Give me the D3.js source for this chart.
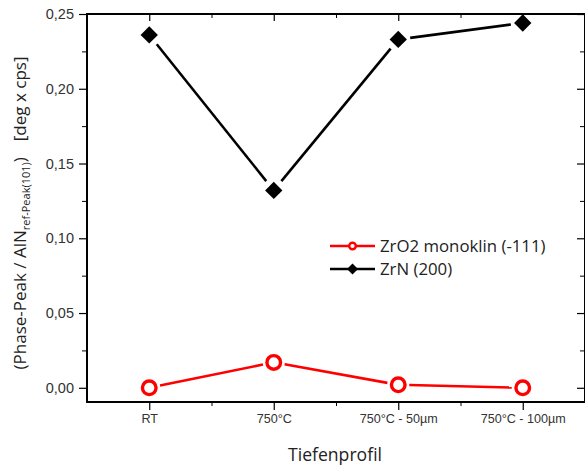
<!DOCTYPE html>
<html>
<head>
<meta charset="utf-8">
<script src="https://cdn.jsdelivr.net/npm/d3@7"></script>
<style>
  body { margin: 0; background: #fff; }
  svg { font-family: "Open Sans", "Noto Sans", sans-serif; }
</style>
</head>
<body>
<svg id="chart" width="585" height="468"></svg>
<script>
// categories and series values
const categories = ['RT', '750°C', '750°C - 50µm', '750°C - 100µm'];
const zro2 = [0.000, 0.017, 0.002, 0.000];
const zrn = [0.236, 0.132, 0.233, 0.244];
const yTicks = [0, 0.05, 0.10, 0.15, 0.20, 0.25];
const yMinor = [0.025, 0.075, 0.125, 0.175, 0.225];

const margin = { left: 87, right: 585, top: 14, bottom: 402 };
const svg = d3.select('#chart');

// x is a linear scale over category index, half a step of padding each side
const x = d3.scaleLinear().domain([0.5, categories.length + 0.5]).range([margin.left, margin.right]);
const y = d3.scaleLinear().domain([-0.0095, 0.25]).range([margin.bottom, margin.top]);

const fmt = d => d3.format('.2f')(d).replace('.', ',');

// frame
svg.append('rect')
  .attr('x', margin.left).attr('y', margin.top)
  .attr('width', margin.right - margin.left).attr('height', margin.bottom - margin.top)
  .attr('fill', 'none').attr('stroke', '#000').attr('stroke-width', 2);

const idx = d3.range(1, categories.length + 1);
const halfIdx = d3.range(1.5, categories.length, 1);

// bottom axis
const gx = svg.append('g').attr('transform', `translate(0,${margin.bottom})`)
  .call(d3.axisBottom(x).tickValues(idx).tickFormat(i => categories[i - 1]).tickSize(8).tickPadding(4));
gx.select('.domain').remove();
gx.selectAll('line').attr('stroke', '#000').attr('stroke-width', 1.2);
gx.selectAll('text').attr('font-size', 12.6).attr('fill', '#333');
svg.append('g').attr('transform', `translate(0,${margin.bottom})`)
  .call(d3.axisBottom(x).tickValues(halfIdx).tickFormat('').tickSize(4))
  .call(g => g.select('.domain').remove())
  .selectAll('line').attr('stroke', '#000');

// top axis, ticks pointing inside
const gt = svg.append('g').attr('transform', `translate(0,${margin.top})`)
  .call(d3.axisTop(x).tickValues(idx).tickFormat('').tickSize(-7));
gt.select('.domain').remove();
gt.selectAll('line').attr('stroke', '#000').attr('stroke-width', 1.2);
svg.append('g').attr('transform', `translate(0,${margin.top})`)
  .call(d3.axisTop(x).tickValues(halfIdx).tickFormat('').tickSize(-4))
  .call(g => g.select('.domain').remove())
  .selectAll('line').attr('stroke', '#000');

// left axis
const gy = svg.append('g').attr('transform', `translate(${margin.left},0)`)
  .call(d3.axisLeft(y).tickValues(yTicks).tickFormat(fmt).tickSize(8).tickPadding(5));
gy.select('.domain').remove();
gy.selectAll('line').attr('stroke', '#000').attr('stroke-width', 1.2);
gy.selectAll('text').attr('font-size', 14.5).attr('fill', '#333');
svg.append('g').attr('transform', `translate(${margin.left},0)`)
  .call(d3.axisLeft(y).tickValues(yMinor).tickFormat('').tickSize(5))
  .call(g => g.select('.domain').remove())
  .selectAll('line').attr('stroke', '#000');

// right axis, ticks pointing inside
svg.append('g').attr('transform', `translate(${margin.right},0)`)
  .call(d3.axisRight(y).tickValues(yTicks).tickFormat('').tickSize(-8))
  .call(g => g.select('.domain').remove())
  .selectAll('line').attr('stroke', '#000').attr('stroke-width', 1.2);
svg.append('g').attr('transform', `translate(${margin.right},0)`)
  .call(d3.axisRight(y).tickValues(yMinor).tickFormat('').tickSize(-5))
  .call(g => g.select('.domain').remove())
  .selectAll('line').attr('stroke', '#000');

// line segments with a small gap at each marker
function drawSeries(vals, color, gap) {
  const pts = vals.map((v, i) => [x(i + 1), y(v)]);
  for (let i = 0; i < pts.length - 1; i++) {
    const [x1, y1] = pts[i], [x2, y2] = pts[i + 1];
    const len = Math.hypot(x2 - x1, y2 - y1);
    const ux = (x2 - x1) / len, uy = (y2 - y1) / len;
    svg.append('line')
      .attr('x1', x1 + ux * gap).attr('y1', y1 + uy * gap)
      .attr('x2', x2 - ux * gap).attr('y2', y2 - uy * gap)
      .attr('stroke', color).attr('stroke-width', 2.6);
  }
  return pts;
}

drawSeries(zrn, '#000', 12);
svg.selectAll('.zrn').data(zrn).enter().append('path')
  .attr('transform', (d, i) => `translate(${x(i + 1)},${y(d)}) rotate(45)`)
  .attr('d', d3.symbol().type(d3.symbolSquare).size(150))
  .attr('fill', '#000');

drawSeries(zro2, '#ff0000', 11);
svg.selectAll('.zro2').data(zro2).enter().append('circle')
  .attr('cx', (d, i) => x(i + 1)).attr('cy', d => y(d)).attr('r', 6.8)
  .attr('fill', '#fff').attr('stroke', '#ff0000').attr('stroke-width', 3.4);

// legend
const lg = svg.append('g').attr('transform', 'translate(330,246)');
lg.append('line').attr('x1', 0).attr('x2', 45).attr('stroke', '#ff0000').attr('stroke-width', 2.6);
lg.append('circle').attr('cx', 22.5).attr('r', 3.3).attr('fill', '#fff').attr('stroke', '#ff0000').attr('stroke-width', 2.4);
lg.append('text').attr('x', 50).attr('dy', '0.35em').attr('font-size', 16.8).attr('fill', '#222').text('ZrO2 monoklin (-111)');
const lg2 = svg.append('g').attr('transform', 'translate(330,269)');
lg2.append('line').attr('x1', 0).attr('x2', 45).attr('stroke', '#000').attr('stroke-width', 2.6);
lg2.append('path').attr('transform', 'translate(22.5,0) rotate(45)')
  .attr('d', d3.symbol().type(d3.symbolSquare).size(60)).attr('fill', '#000');
lg2.append('text').attr('x', 50).attr('dy', '0.35em').attr('font-size', 16.8).attr('fill', '#222').text('ZrN (200)');

// axis titles
svg.append('text').attr('x', 335).attr('y', 461)
  .attr('text-anchor', 'middle').attr('font-size', 17.6).attr('fill', '#222').text('Tiefenprofil');

const yt = svg.append('text')
  .attr('transform', 'translate(26,213) rotate(-90)')
  .attr('text-anchor', 'middle').attr('font-size', 17).attr('fill', '#222');
yt.append('tspan').text('(Phase-Peak / AlN');
yt.append('tspan').attr('font-size', 11).attr('dy', 4).text('ref-Peak(101)');
yt.append('tspan').attr('dy', -4).text(')');
yt.append('tspan').attr('dx', 16).text('[deg x cps]');
</script>
</body>
</html>
